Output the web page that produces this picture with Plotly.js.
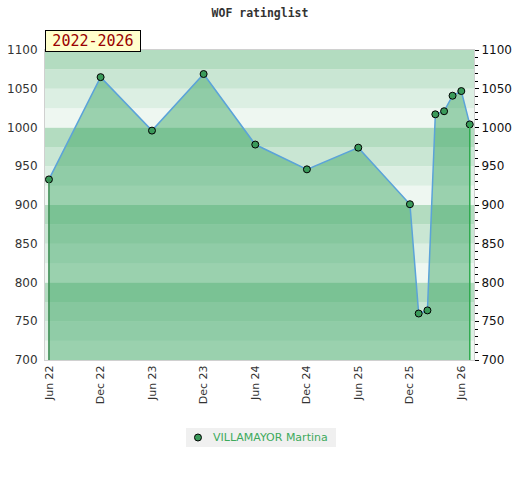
<!DOCTYPE html>
<html>
<head>
<meta charset="utf-8">
<script src="https://cdn.plot.ly/plotly-3.0.1.min.js"></script>
<style>html,body{margin:0;padding:0;background:#fff;}#chart{width:520px;height:480px;}</style>
</head>
<body>
<div id="chart"></div>
<script>
// ---- data ----
const dates = ["2022-06-01","2022-12-01","2023-06-01","2023-12-01","2024-06-01","2024-12-01","2025-06-01","2025-12-01","2026-01-01","2026-02-01","2026-03-01","2026-04-01","2026-05-01","2026-06-01","2026-07-01"];
const ratings = [933,1065,996,1069,978,946,974,901,760,764,1017,1021,1041,1047,1004];
const playerName = "VILLAMAYOR Martina";
const chartTitle = "WOF ratinglist";
const periodLabel = "2022-2026";
const tickDates = ["2022-06-01","2022-12-01","2023-06-01","2023-12-01","2024-06-01","2024-12-01","2025-06-01","2025-12-01","2026-06-01"];
const tickLabels = ["Jun 22","Dec 22","Jun 23","Dec 23","Jun 24","Dec 24","Jun 25","Dec 25","Jun 26"];

// ---- style ----
const yMin = 700, yMax = 1100;
const bandColors = ["#eef7f1","#dcefe3","#c9e6d3","#b3dcc0"];
const shapes = [];
for (let v = yMin, i = 0; v < yMax; v += 25, i++) {
  shapes.push({type:"rect", xref:"paper", yref:"y", x0:0, x1:1, y0:v, y1:v+25,
    fillcolor: bandColors[i % 4], line:{width:0}, layer:"below"});
}
const n = dates.length;
shapes.push({type:"line", xref:"x", yref:"y", x0:dates[0], x1:dates[0], y0:yMin, y1:ratings[0],
  line:{color:"#3a8a50", width:1.5}, layer:"above"});
shapes.push({type:"line", xref:"x", yref:"y", x0:dates[n-1], x1:dates[n-1], y0:yMin, y1:ratings[n-1],
  line:{color:"#2eaa4e", width:1.5}, layer:"above"});

// custom legend (background box + marker) below the plot
const legendY = -0.25;
shapes.push({type:"rect", xref:"paper", yref:"paper", x0:0.3287, x1:0.6783, y0:-0.2806, y1:-0.2194,
  fillcolor:"#f0f0f0", line:{width:0}, layer:"above"});
shapes.push({type:"circle", xref:"paper", yref:"paper", xsizemode:"pixel", ysizemode:"pixel",
  xanchor:0.3566, yanchor:legendY, x0:-3.5, x1:3.5, y0:-3.5, y1:3.5,
  fillcolor:"#3a9a5a", line:{color:"#000", width:1}, layer:"above"});

const fontMain = "DejaVu Sans, Verdana, sans-serif";
const markerStyle = {color:"#3a9a5a", size:7, line:{color:"#000", width:1}};

const traces = [{
  x: dates, y: ratings, type:"scatter", mode:"lines+markers", name: playerName, showlegend:false,
  fill:"tozeroy", fillcolor:"rgba(55,163,96,0.46)",
  line:{color:"#5ba3d9", width:1.5},
  marker: markerStyle
},{
  x: dates, y: ratings, yaxis:"y2", type:"scatter", mode:"none", showlegend:false, hoverinfo:"skip"
}];

const layout = {
  width:520, height:480,
  margin:{l:45, r:46, t:50, b:120},
  paper_bgcolor:"#fff", plot_bgcolor:"rgba(0,0,0,0)",
  title:{text:"<b>"+chartTitle+"</b>", x:0.5, xanchor:"center", y:0.972, yanchor:"middle",
    font:{family:"DejaVu Sans Mono, monospace", size:11.5, color:"#333"}},
  xaxis:{type:"date", range:["2022-05-18","2026-07-16"], tickvals:tickDates, ticktext:tickLabels,
    tickangle:-90, tickfont:{family:fontMain, size:11, color:"#333"}, showgrid:false, zeroline:false,
    showline:true, linecolor:"#d0d0d0", linewidth:1, mirror:true, ticks:"", fixedrange:true},
  yaxis:{range:[yMin,yMax], dtick:50, tick0:700, showgrid:false, zeroline:false,
    tickfont:{family:fontMain, size:12, color:"#333"}, ticks:"", ticklabelstandoff:4,
    showline:true, linecolor:"#d0d0d0", linewidth:1, mirror:true, fixedrange:true},
  yaxis2:{overlaying:"y", side:"right", range:[yMin,yMax], dtick:50, tick0:700, showgrid:false, zeroline:false,
    tickfont:{family:fontMain, size:12, color:"#111"}, ticks:"outside", ticklen:4, tickcolor:"#000",
    minor:{dtick:10, ticks:"outside", ticklen:3, tickcolor:"#000"}, showline:false, fixedrange:true},
  shapes: shapes,
  showlegend:false,
  annotations:[{text:periodLabel, xref:"paper", yref:"paper", x:0, y:1, xanchor:"left", yanchor:"bottom",
    yshift:-2, showarrow:false, bgcolor:"#ffffcc", bordercolor:"#000", borderwidth:1, borderpad:3, width:88, height:14,
    font:{family:"DejaVu Sans Mono, monospace", size:15, color:"#990000"}},
  {text:playerName, xref:"paper", yref:"paper", x:0.3869, y:legendY, xanchor:"left", yanchor:"middle",
    showarrow:false, font:{family:fontMain, size:11, color:"#3daa5c"}}]
};
Plotly.newPlot("chart", traces, layout, {displayModeBar:false, staticPlot:true});
</script>
</body>
</html>
